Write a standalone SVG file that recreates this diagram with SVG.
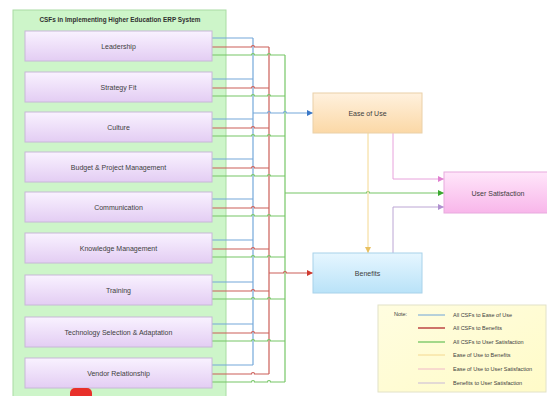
<svg xmlns="http://www.w3.org/2000/svg" width="547" height="396" viewBox="0 0 547 396">
<defs>
<linearGradient id="gNode" x1="0" y1="0" x2="0" y2="1"><stop offset="0" stop-color="#f9f2ff"/><stop offset="1" stop-color="#e3cdf3"/></linearGradient>
<linearGradient id="gEase" x1="0" y1="0" x2="0" y2="1"><stop offset="0" stop-color="#fff1de"/><stop offset="1" stop-color="#fbd8a6"/></linearGradient>
<linearGradient id="gBen" x1="0" y1="0" x2="0" y2="1"><stop offset="0" stop-color="#e6f6ff"/><stop offset="1" stop-color="#b9e2f8"/></linearGradient>
<linearGradient id="gUS" x1="0" y1="0" x2="0" y2="1"><stop offset="0" stop-color="#ffe6fa"/><stop offset="1" stop-color="#f8b6ea"/></linearGradient>
<linearGradient id="gNote" x1="0" y1="0" x2="1" y2="1"><stop offset="0" stop-color="#fffde0"/><stop offset="1" stop-color="#fffbc8"/></linearGradient>
<marker id="aBlue" viewBox="0 0 6 6" refX="6" refY="3" markerWidth="6" markerHeight="6" markerUnits="userSpaceOnUse" orient="auto"><path d="M0,0L6,3L0,6z" fill="#3a78c8"/></marker>
<marker id="aRed" viewBox="0 0 6 6" refX="6" refY="3" markerWidth="6" markerHeight="6" markerUnits="userSpaceOnUse" orient="auto"><path d="M0,0L6,3L0,6z" fill="#d03a30"/></marker>
<marker id="aGreen" viewBox="0 0 6 6" refX="6" refY="3" markerWidth="6" markerHeight="6" markerUnits="userSpaceOnUse" orient="auto"><path d="M0,0L6,3L0,6z" fill="#3aa830"/></marker>
<marker id="aYel" viewBox="0 0 6 6" refX="6" refY="3" markerWidth="6" markerHeight="6" markerUnits="userSpaceOnUse" orient="auto"><path d="M0,0L6,3L0,6z" fill="#e8c060"/></marker>
<marker id="aPink" viewBox="0 0 6 6" refX="6" refY="3" markerWidth="6" markerHeight="6" markerUnits="userSpaceOnUse" orient="auto"><path d="M0,0L6,3L0,6z" fill="#e080d0"/></marker>
<marker id="aPur" viewBox="0 0 6 6" refX="6" refY="3" markerWidth="6" markerHeight="6" markerUnits="userSpaceOnUse" orient="auto"><path d="M0,0L6,3L0,6z" fill="#b090d0"/></marker>
</defs>
<style>
.node{fill:url(#gNode);stroke:#c8b8d8;stroke-width:1}
.lbl{font-family:"Liberation Sans",Arial,sans-serif;font-size:7px;fill:#404040;text-anchor:middle;dominant-baseline:central}
.leg{font-family:"Liberation Sans",Arial,sans-serif;font-size:5.5px;fill:#404040;dominant-baseline:central}
.b{fill:none;stroke:#74a8da;stroke-width:1.2}
.r{fill:none;stroke:#cc5e58;stroke-width:1.2}
.g{fill:none;stroke:#76c666;stroke-width:1.2}
.y{fill:none;stroke:#f4d890;stroke-width:1}
.p{fill:none;stroke:#e8a2dc;stroke-width:1}
.u{fill:none;stroke:#bca6d4;stroke-width:1}
</style>
<rect width="547" height="396" fill="#ffffff"/>
<g id="panel">
<rect x="13" y="10" width="213" height="400" fill="#cdf5c9" stroke="#a9dca3" stroke-width="1"/>
<text x="120" y="19" class="lbl" style="font-weight:bold;font-size:6.4px;fill:#303030">CSFs in Implementing Higher Education ERP System</text>
</g>
<g id="connectors">
<path class="b" d="M253,38V365"/>
<path class="r" d="M269,47V374"/>
<path class="g" d="M285,55V382"/>
<path class="b" d="M212,38H253M212,79H253M212,119H253M212,159H253M212,199H253M212,240H253M212,282H253M212,324H253M212,365H253"/>
<path class="r" d="M212,47H251.5a1.5,1.5 0 0 1 3,0H269M212,88H251.5a1.5,1.5 0 0 1 3,0H269M212,128H251.5a1.5,1.5 0 0 1 3,0H269M212,168H251.5a1.5,1.5 0 0 1 3,0H269M212,208H251.5a1.5,1.5 0 0 1 3,0H269M212,249H251.5a1.5,1.5 0 0 1 3,0H269M212,291H251.5a1.5,1.5 0 0 1 3,0H269M212,333H251.5a1.5,1.5 0 0 1 3,0H269M212,374H251.5a1.5,1.5 0 0 1 3,0H269"/>
<path class="g" d="M212,55H251.5a1.5,1.5 0 0 1 3,0H267.5a1.5,1.5 0 0 1 3,0H285M212,96H251.5a1.5,1.5 0 0 1 3,0H267.5a1.5,1.5 0 0 1 3,0H285M212,136H251.5a1.5,1.5 0 0 1 3,0H267.5a1.5,1.5 0 0 1 3,0H285M212,176H251.5a1.5,1.5 0 0 1 3,0H267.5a1.5,1.5 0 0 1 3,0H285M212,216H251.5a1.5,1.5 0 0 1 3,0H267.5a1.5,1.5 0 0 1 3,0H285M212,257H251.5a1.5,1.5 0 0 1 3,0H267.5a1.5,1.5 0 0 1 3,0H285M212,299H251.5a1.5,1.5 0 0 1 3,0H267.5a1.5,1.5 0 0 1 3,0H285M212,341H251.5a1.5,1.5 0 0 1 3,0H267.5a1.5,1.5 0 0 1 3,0H285M212,382H251.5a1.5,1.5 0 0 1 3,0H267.5a1.5,1.5 0 0 1 3,0H285"/>
<path class="b" d="M253,113H267.5a1.5,1.5 0 0 1 3,0H283.5a1.5,1.5 0 0 1 3,0H313" marker-end="url(#aBlue)"/>
<path class="r" d="M269,273H283.5a1.5,1.5 0 0 1 3,0H313" marker-end="url(#aRed)"/>
<path class="g" d="M285,193H366.5a1.5,1.5 0 0 1 3,0H444" marker-end="url(#aGreen)"/>
<path class="y" d="M368,133V253" marker-end="url(#aYel)"/>
<path class="p" d="M393,133V179H444" marker-end="url(#aPink)"/>
<path class="u" d="M393,253V207H444" marker-end="url(#aPur)"/>
</g>
<g id="n1"><rect class="node" x="25" y="31" width="187" height="30"/><text class="lbl" x="118.5" y="46">Leadership</text></g>
<g id="n2"><rect class="node" x="25" y="72" width="187" height="30"/><text class="lbl" x="118.5" y="87">Strategy Fit</text></g>
<g id="n3"><rect class="node" x="25" y="112" width="187" height="30"/><text class="lbl" x="118.5" y="127">Culture</text></g>
<g id="n4"><rect class="node" x="25" y="152" width="187" height="30"/><text class="lbl" x="118.5" y="167">Budget &amp; Project Management</text></g>
<g id="n5"><rect class="node" x="25" y="192" width="187" height="30"/><text class="lbl" x="118.5" y="207">Communication</text></g>
<g id="n6"><rect class="node" x="25" y="233" width="187" height="30"/><text class="lbl" x="118.5" y="248">Knowledge Management</text></g>
<g id="n7"><rect class="node" x="25" y="275" width="187" height="30"/><text class="lbl" x="118.5" y="290">Training</text></g>
<g id="n8"><rect class="node" x="25" y="317" width="187" height="30"/><text class="lbl" x="118.5" y="332">Technology Selection &amp; Adaptation</text></g>
<g id="n9"><rect class="node" x="25" y="358" width="187" height="30"/><text class="lbl" x="118.5" y="373">Vendor Relationship</text></g>
<g id="ease"><rect x="313" y="93" width="109" height="40" fill="url(#gEase)" stroke="#ead0a8" stroke-width="1"/><text class="lbl" x="367.5" y="113">Ease of Use</text></g>
<g id="benefits"><rect x="313" y="253" width="109" height="40" fill="url(#gBen)" stroke="#a8d2ea" stroke-width="1"/><text class="lbl" x="367.5" y="273">Benefits</text></g>
<g id="usersat"><rect x="444" y="172" width="108" height="41" fill="url(#gUS)" stroke="#e8aade" stroke-width="1"/><text class="lbl" x="498" y="193">User Satisfaction</text></g>
<g id="legend">
<rect x="378" y="305" width="168" height="87" fill="url(#gNote)" stroke="#e2e2c8" stroke-width="1"/>
<text class="leg" x="394" y="314">Note:</text>
<path d="M418,315H445" stroke="#6ea4d8" stroke-width="1"/>
<path d="M418,328H445" stroke="#c0504d" stroke-width="1.6"/>
<path d="M418,342H445" stroke="#72c460" stroke-width="1.3"/>
<path d="M418,355H445" stroke="#f4d890" stroke-width="1"/>
<path d="M418,369H445" stroke="#f0b8c8" stroke-width="1"/>
<path d="M418,383H445" stroke="#c8b8d8" stroke-width="1"/>
<text class="leg" x="453" y="315">All CSFs to Ease of Use</text>
<text class="leg" x="453" y="328">All CSFs to Benefits</text>
<text class="leg" x="453" y="342">All CSFs to User Satisfaction</text>
<text class="leg" x="453" y="355">Ease of Use to Benefits</text>
<text class="leg" x="453" y="369">Ease of Use to User Satisfaction</text>
<text class="leg" x="453" y="383">Benefits to User Satisfaction</text>
</g>
<rect x="70" y="388" width="22" height="16" rx="5" fill="#e8302a"/>
</svg>
